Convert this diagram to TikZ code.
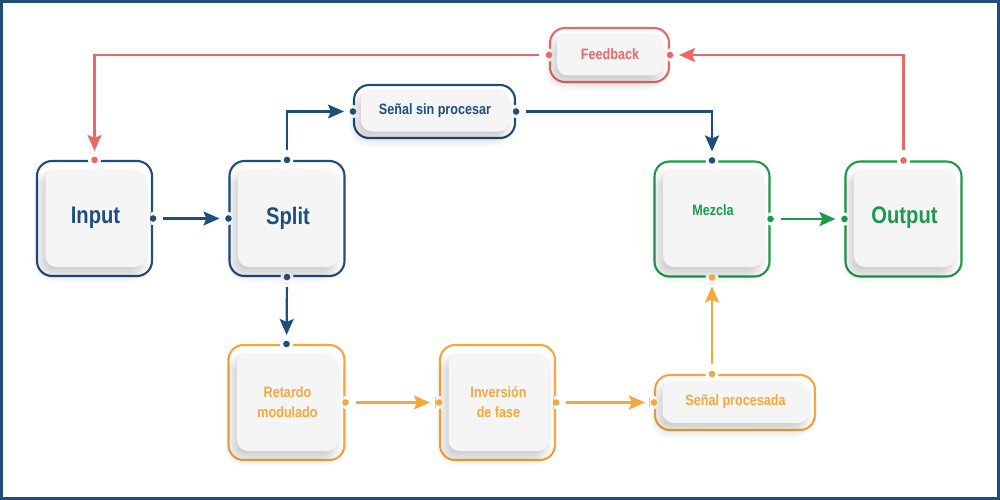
\documentclass[tikz,border=0pt]{standalone}
\usepackage{fontspec}
\setmainfont{Liberation Sans}[FakeStretch=0.84]
\usetikzlibrary{arrows.meta,shadows.blur}
\definecolor{cblue}{HTML}{1D4E7C}
\definecolor{cred}{HTML}{EE6767}
\definecolor{corange}{HTML}{F5A73B}
\definecolor{cgreen}{HTML}{1B9A4A}
\definecolor{cardgray}{HTML}{F5F5F6}
\begin{document}
\begin{tikzpicture}[x=1pt,y=-1pt,
  outl/.style={draw=#1, line width=2.1pt, rounded corners=15pt, inner sep=0pt},
  card/.style={fill=cardgray, rounded corners=11pt, inner sep=0pt, align=center,
    blur shadow={shadow xshift=-4pt, shadow yshift=-7pt, shadow blur radius=9pt, shadow blur steps=14, shadow opacity=22}},
  big/.style={font=\bfseries\fontsize{24}{28}\selectfont},
  small/.style={font=\bfseries\fontsize{15}{20}\selectfont},
  conn/.style={line width=2.2pt, draw=#1, -{Stealth[length=16pt,width=14pt,inset=3pt]}, shorten <=10pt, shorten >=9pt},
]
\useasboundingbox (0,0) rectangle (1000,500);
\draw[cblue, line width=3pt] (1.5,1.5) rectangle (998.5,498.5);

% outlines
\node[outl=cblue, minimum width=115pt, minimum height=115pt] (input) at (94.5,218.5) {};
\node[outl=cblue, minimum width=115pt, minimum height=115pt] (split) at (287,218.5) {};
\node[outl=cblue, minimum width=161pt, minimum height=53pt] (sinp) at (434.5,111.5) {};
\node[outl=cred, minimum width=119pt, minimum height=54pt] (feed) at (609.5,55) {};
\node[outl=cgreen, minimum width=115pt, minimum height=115pt] (mez) at (712,219) {};
\node[outl=cgreen, minimum width=116pt, minimum height=115pt] (out) at (903.5,219) {};
\node[outl=corange, minimum width=116pt, minimum height=115pt] (ret) at (286.5,402.5) {};
\node[outl=corange, minimum width=115pt, minimum height=115pt] (inv) at (497.5,402.5) {};
\node[outl=corange, minimum width=160pt, minimum height=55pt] (proc) at (735,402.5) {};
\coordinate (proctop) at (proc.north -| mez.south);

% gaps in outlines
\foreach \p in {input.east,input.north,split.west,split.north,split.south,sinp.west,sinp.east,
  feed.west,feed.east,mez.north,mez.east,mez.south,out.west,out.north,ret.north,ret.east,
  inv.west,inv.east,proc.west,proctop}
  \fill[white] (\p) circle (6.5pt);

% cards
\node[card, minimum width=100pt, minimum height=98pt, text=cblue, big] (inputc) at (95.5,218) {Input};
\node[card, minimum width=100pt, minimum height=98pt, text=cblue, big] (splitc) at (288,218) {Split};
\node[card, minimum width=148pt, minimum height=42pt, text=cblue, small] (sinpc) at (435,110.5) {Señal sin procesar};
\node[card, minimum width=106pt, minimum height=42pt, text=cred, small] (feedc) at (610,54.5) {Feedback};
\node[card, minimum width=100pt, minimum height=98pt, text=cgreen, small] (mezc) at (713,218) {};
\node[small, text=cgreen] (mezt) at (713,210) {Mezcla};
\node[card, minimum width=101pt, minimum height=98pt, text=cgreen, big] (outc) at (904.5,218) {Output};
\node[card, minimum width=101pt, minimum height=98pt, text=corange, small] (retc) at (287.5,402) {Retardo\\modulado};
\node[card, minimum width=100pt, minimum height=98pt, text=corange, small] (invc) at (498.5,402) {Inversión\\de fase};
\node[card, minimum width=146pt, minimum height=42pt, text=corange, small] (procc) at (735.5,402) {Señal procesada};

% dots
\foreach \p/\c in {input.east/cblue,input.north/cred,split.west/cblue,split.north/cblue,
  split.south/cblue,sinp.west/cblue,sinp.east/cblue,feed.west/cred,feed.east/cred,
  mez.north/cblue,mez.east/cgreen,mez.south/corange,out.west/cgreen,out.north/cred,
  ret.north/cblue,ret.east/corange,inv.west/corange,inv.east/corange,proc.west/corange,
  proctop/corange}
  \fill[\c] (\p) circle (3.3pt);

% connectors
\draw[conn=cblue] (input.east) -- (split.west);
\draw[conn=cblue] (split.north) |- (sinp.west);
\draw[conn=cblue] (sinp.east) -| (mez.north);
\draw[conn=cblue] (split.south) -- (ret.north);
\draw[conn=corange] (ret.east) -- (inv.west);
\draw[conn=corange] (inv.east) -- (proc.west);
\draw[conn=corange] (proctop) -- (mez.south);
\draw[conn=cgreen] (mez.east) -- (out.west);
\draw[conn=cred] (out.north) |- (feed.east);
\draw[conn=cred] (feed.west) -| (input.north);
\end{tikzpicture}
\end{document}
